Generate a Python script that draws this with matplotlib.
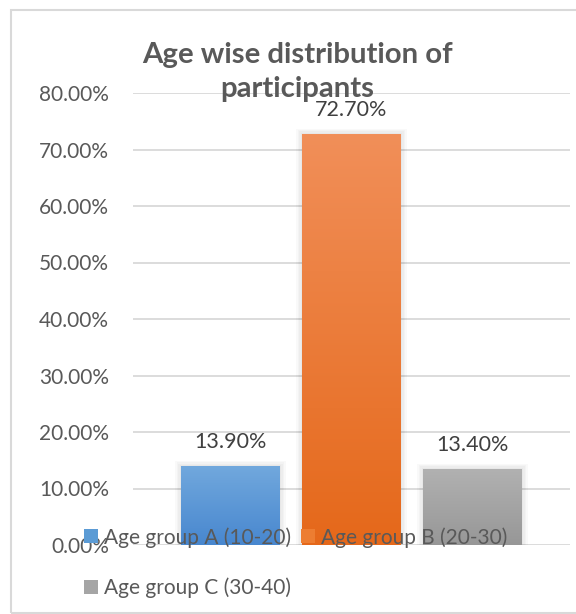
import matplotlib
matplotlib.use("Agg")
import matplotlib.pyplot as plt
from matplotlib.patches import Rectangle, Patch
from matplotlib.colors import LinearSegmentedColormap
import numpy as np

groups = ["Age group A (10-20)", "Age group B (20-30)", "Age group C (30-40)"]
shares = [13.90, 72.70, 13.40]
y_ticks = [0, 10, 20, 30, 40, 50, 60, 70, 80]
title = "Age wise distribution of\nparticipants"

# top / bottom gradient colours per bar
tops = ["#71A8DD", "#F18F59", "#B1B1B1"]
bottoms = ["#4887CF", "#E5681A", "#979797"]
solid = ["#5B9BD5", "#ED7D31", "#A5A5A5"]

plt.rcParams['font.family'] = ['Lato', 'DejaVu Sans']
text_col = "#595959"

fig = plt.figure(figsize=(5.76, 6.14), dpi=100)
ax = fig.add_axes([133 / 576, 69 / 614, (570 - 133) / 576, 452 / 614])

x = np.arange(len(groups))
bars = ax.bar(x, shares, width=0.818, color=solid, zorder=3)

# soft shadow + vertical gradient inside each bar
for bar, top, bot in zip(bars, tops, bottoms):
	bx, by = bar.get_x(), bar.get_y()
	bw, bh = bar.get_width(), bar.get_height()
	for k in range(1, 5):
		ax.add_patch(Rectangle((bx - 0.012 * k, by), bw + 0.024 * k, bh + 0.25 * k,
			facecolor="black", alpha=0.025, lw=0, zorder=2))
	cmap = LinearSegmentedColormap.from_list("g", [bot, top])
	grad = np.linspace(0, 1, 256).reshape(-1, 1)
	im = ax.imshow(grad, cmap=cmap, aspect="auto", origin="lower",
		extent=(bx, bx + bw, by, by + bh), zorder=4)
	im.set_clip_path(bar)

for xi, v in zip(x, shares):
	ax.annotate(f"{v:.2f}%", (xi, v), xytext=(0, 17.3), textcoords="offset points",
		ha="center", va="center", fontsize=15.5, color="#404040", zorder=5)

ax.set_xlim(-0.806, 2.806)
ax.set_ylim(0, 80)
ax.set_yticks(y_ticks)
ax.set_yticklabels([f"{t:.2f}%" for t in y_ticks], fontsize=15, color=text_col)
ax.tick_params(axis="y", length=0, pad=17.3)
ax.set_xticks([])
ax.grid(axis="y", color="#D9D9D9", lw=1.3, zorder=0)
ax.set_axisbelow(True)
for s in ax.spines.values():
	s.set_visible(False)
ax.patch.set_visible(False)

fig.text(297 / 576, 1 - 42 / 614, title, ha="center", va="top", fontsize=21.2,
	fontweight="bold", color=text_col, linespacing=1.38, zorder=6)

# legend: row 1 = A, B ; row 2 = C
handles = [Patch(facecolor=c, edgecolor="none") for c in solid]
order = [0, 2, 1]
leg = fig.legend([handles[i] for i in order], [groups[i] for i in order], ncol=2,
	loc="upper left", bbox_to_anchor=(84 / 576, 1 - 527 / 614), frameon=False,
	fontsize=15, handlelength=0.67, handleheight=0.67, handletextpad=0.3,
	columnspacing=0.45, labelspacing=1.45, borderpad=0, borderaxespad=0)
for t in leg.get_texts():
	t.set_color(text_col)

fig.patches.append(Rectangle((11 / 576, 1 / 614), 1.2, 603 / 614, transform=fig.transFigure,
	fill=False, edgecolor="#D9D9D9", lw=1.5, zorder=0))

fig.savefig("out.png", dpi=100)
